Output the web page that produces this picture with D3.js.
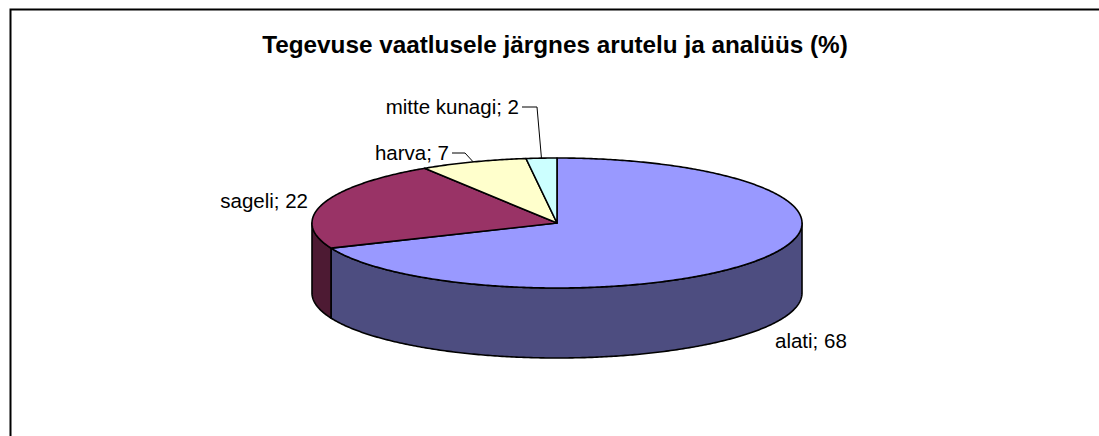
<!DOCTYPE html>
<html>
<head>
<meta charset="utf-8">
<script src="https://cdn.jsdelivr.net/npm/d3@7"></script>
<style>
  html, body { margin: 0; padding: 0; background: #fff; overflow: hidden; width: 1099px; height: 436px; }
  svg { display: block; }
</style>
</head>
<body>
<svg id="chart" width="1099" height="436"></svg>
<script>
// ---- data ----
const title = "Tegevuse vaatlusele järgnes arutelu ja analüüs (%)";
const categories = ["alati", "sageli", "harva", "mitte kunagi"];
const values = [68, 22, 7, 2];
const topColors = ["#9999FF", "#993366", "#FFFFCC", "#CCFFFF"];
const sideColors = ["#4D4D80", "#4D1A33", "#808066", "#668080"];

// ---- layout ----
const cx = 557, cy = 223, rx = 245, ry = 65, depth = 70;
const labelLayout = [
  { x: 775, y: 348, anchor: "start", leader: false },
  { x: 308, y: 208, anchor: "end", leader: false },
  { x: 449, y: 160, anchor: "end", leader: true, elbow: 465 },
  { x: 519, y: 114, anchor: "end", leader: true, elbow: 537 }
];

const svg = d3.select("#chart");

svg.append("rect").attr("width", 1099).attr("height", 436).attr("fill", "#fff");

// frame (top and left edges)
svg.append("path")
  .attr("d", "M10.5,1000 L10.5,9.5 L1110,9.5")
  .attr("fill", "none").attr("stroke", "#000").attr("stroke-width", 2);

svg.append("text")
  .attr("x", 555).attr("y", 53)
  .attr("text-anchor", "middle")
  .attr("font-family", "Arial, 'Liberation Sans', sans-serif")
  .attr("font-weight", "bold")
  .attr("font-size", 24.3)
  .attr("fill", "#000")
  .text(title);

const pie = d3.pie().sort(null).startAngle(0).endAngle(2 * Math.PI);
const arcs = pie(values);

const px = a => cx + rx * Math.sin(a);
const py = a => cy - ry * Math.cos(a);

function arcPoints(a0, a1, dy) {
  const n = Math.max(2, Math.ceil(Math.abs(a1 - a0) / 0.01));
  const pts = [];
  for (let i = 0; i <= n; i++) {
    const a = a0 + (a1 - a0) * i / n;
    pts.push([px(a), py(a) + dy]);
  }
  return pts;
}

const line = d3.line();
const g = svg.append("g");

// side walls (front half)
arcs.forEach((d, i) => {
  const a0 = Math.max(d.startAngle, Math.PI / 2);
  const a1 = Math.min(d.endAngle, 3 * Math.PI / 2);
  if (a1 <= a0) return;
  const top = arcPoints(a0, a1, 0);
  const bot = arcPoints(a1, a0, depth);
  g.append("path")
    .attr("d", line(top.concat(bot)) + "Z")
    .attr("fill", sideColors[i])
    .attr("stroke", "#000")
    .attr("stroke-width", 1.6)
    .attr("stroke-linejoin", "round");
});

// top faces
arcs.forEach((d, i) => {
  const pts = [[cx, cy]].concat(arcPoints(d.startAngle, d.endAngle, 0));
  g.append("path")
    .attr("d", line(pts) + "Z")
    .attr("fill", topColors[i])
    .attr("stroke", "#000")
    .attr("stroke-width", 1.6)
    .attr("stroke-linejoin", "round");
});

// labels
arcs.forEach((d, i) => {
  const L = labelLayout[i];
  svg.append("text")
    .attr("x", L.x).attr("y", L.y)
    .attr("text-anchor", L.anchor)
    .attr("font-family", "Arial, 'Liberation Sans', sans-serif")
    .attr("font-size", 20.5)
    .attr("fill", "#000")
    .text(categories[i] + "; " + values[i]);
  if (L.leader) {
    const mid = (d.startAngle + d.endAngle) / 2;
    const tx = px(mid), ty = py(mid);
    const ly = L.y - 7;
    svg.append("path")
      .attr("d", line([[L.x + 3, ly], [L.elbow, ly], [tx, ty]]))
      .attr("fill", "none")
      .attr("stroke", "#000")
      .attr("stroke-width", 1);
  }
});
</script>
</body>
</html>
